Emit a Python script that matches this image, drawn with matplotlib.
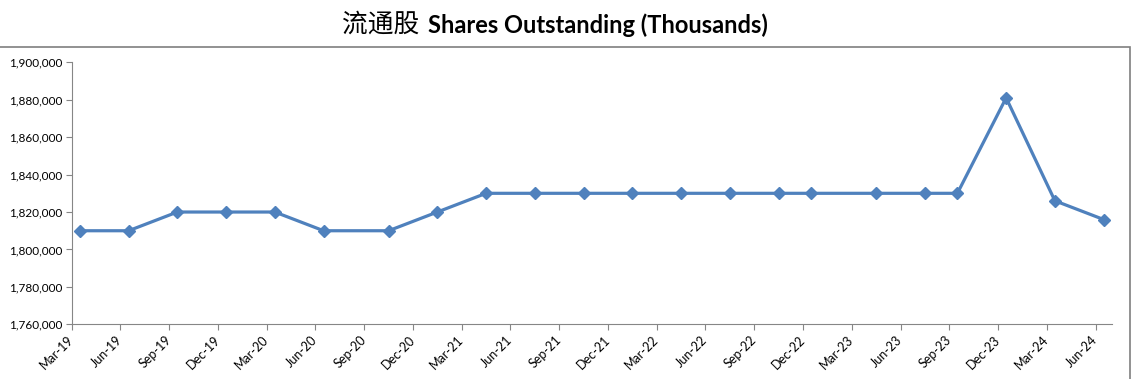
import matplotlib.pyplot as plt
import matplotlib.transforms as mtransforms
from matplotlib.patches import Rectangle

# month index counted from Mar-19 for each reported quarter
months = [0, 3, 6, 9, 12, 15, 19, 22, 25, 28, 31, 34, 37, 40, 43, 45, 49, 52, 54, 57, 60, 63]
shares = [1810000, 1810000, 1820000, 1820000, 1820000, 1810000, 1810000, 1820000,
          1830000, 1830000, 1830000, 1830000, 1830000, 1830000, 1830000, 1830000,
          1830000, 1830000, 1830000, 1881000, 1826000, 1816000]
tick_labels = ['Mar-19', 'Jun-19', 'Sep-19', 'Dec-19', 'Mar-20', 'Jun-20', 'Sep-20', 'Dec-20',
               'Mar-21', 'Jun-21', 'Sep-21', 'Dec-21', 'Mar-22', 'Jun-22', 'Sep-22', 'Dec-22',
               'Mar-23', 'Jun-23', 'Sep-23', 'Dec-23', 'Mar-24', 'Jun-24']
y_ticks = [1760000, 1780000, 1800000, 1820000, 1840000, 1860000, 1880000, 1900000]

plt.rcParams['font.family'] = ['Lato', 'DejaVu Sans']

fig = plt.figure(figsize=(11.31, 3.79), dpi=100)
ax = fig.add_axes([0.0634, 0.1443, 0.9196, 0.6913])

# chart frame (top and right edges visible)
fig.add_artist(Rectangle((-0.01, -0.05), 1130 / 1131 + 0.01, 1 - 47.3 / 379 + 0.05,
                         transform=fig.transFigure, fill=False, edgecolor='#7f7f7f', linewidth=1.2))

x = [m + 0.5 for m in months]
ax.plot(x, shares, color='#4f81bd', linewidth=2.3, marker='D', markersize=6.5,
        markerfacecolor='#4f81bd', markeredgecolor='#4f81bd')

ax.set_xlim(0, 64)
ax.set_ylim(1760000, 1900000)
ax.set_xticks(range(0, 64, 3))
ax.set_xticklabels(tick_labels, rotation=45, ha='right', va='center', rotation_mode='anchor', fontsize=9)
ax.set_yticks(y_ticks)
ax.set_yticklabels([f'{v:,}' for v in y_ticks], fontsize=8.5)

shift = mtransforms.ScaledTranslation(10 / 100, 0, fig.dpi_scale_trans)
for lbl in ax.get_xticklabels():
    lbl.set_transform(lbl.get_transform() + shift)

for s in ['top', 'right']:
    ax.spines[s].set_visible(False)
for s in ['left', 'bottom']:
    ax.spines[s].set_color('#868686')
ax.tick_params(axis='both', color='#868686', length=4, direction='out')
ax.tick_params(axis='y', pad=3)
ax.tick_params(axis='x', pad=6)

fig.text(419 / 1131, 1 - 25 / 379, '流通股', family=['Noto Sans CJK SC'], fontsize=18.5,
         ha='right', va='center')
fig.text(428 / 1131, 1 - 25 / 379, 'Shares Outstanding (Thousands)', fontsize=17,
         fontweight='bold', ha='left', va='center')

fig.savefig('out.png', dpi=100)
